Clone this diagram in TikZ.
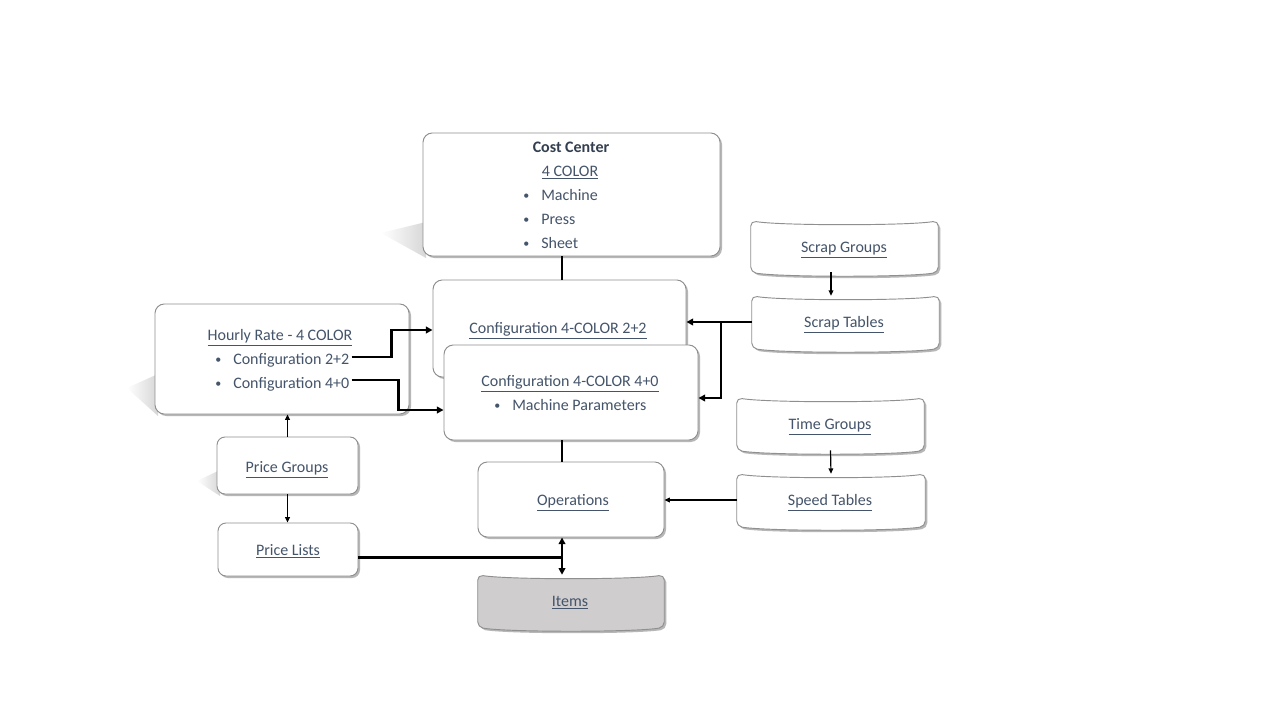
\documentclass[tikz,border=0pt]{standalone}
\usepackage{fontspec}
\setmainfont{Carlito}
\usetikzlibrary{shadows,calc,arrows.meta,fit}
\definecolor{txt}{HTML}{44546A}
\definecolor{txtdark}{HTML}{333F50}
\definecolor{bord}{HTML}{8F8F8F}
\definecolor{itemgray}{HTML}{CFCDCE}
\newcommand\myul[1]{\underline{#1}}
\newcommand\blt{\makebox[13.5pt][l]{\raisebox{0.6pt}{\scalebox{0.75}{\textbullet}}}}
\newcommand\wavebox[2]{%
  \path[draw=bord, fill=#2, line width=0.7pt, rounded corners=4pt,
        drop shadow={shadow xshift=1.5pt, shadow yshift=-1.5pt, opacity=0.4, fill=black!70}]
   (#1.north west) .. controls ($(#1.north west)+(30,5)$) and ($(#1.north east)+(-30,5)$) .. (#1.north east)
   -- (#1.south east) .. controls ($(#1.south east)+(-30,5)$) and ($(#1.south west)+(30,5)$) .. (#1.south west) -- cycle;}
\tikzset{
  boxstyle/.style={draw=bord, fill=white, rounded corners=7pt, line width=0.7pt, inner sep=0pt,
    drop shadow={shadow xshift=1.5pt, shadow yshift=-1.5pt, opacity=0.4, fill=black!70}},
  plainfit/.style={inner sep=0pt},
  lbl/.style={text=txt, font=\fontsize{12}{14}\selectfont, inner sep=0pt, anchor=base},
  lblw/.style={lbl, anchor=base west},
  conn/.style={line width=1.6pt},
  thinconn/.style={line width=0.9pt},
  arr/.style={-{Triangle[length=5pt,width=5pt]}},
  sarr/.style={-{Triangle[length=4pt,width=3.5pt]}},
  wedge/.style={left color=white, right color=black!16},
}
\begin{document}
\begin{tikzpicture}[x=0.75pt,y=-0.75pt]
\useasboundingbox[fill=white] (0,0) rectangle (1280,720);
% perspective shadows
\shade[wedge] (426,222) -- (381,233) -- (426,258) -- cycle;
\shade[wedge] (158,374) -- (127,388) -- (158,416) -- cycle;
\shade[wedge] (220,470) -- (197,481) -- (220,496) -- cycle;
% helper coordinates
\coordinate (vx) at (562,0);
\coordinate (sx) at (831,0);
% boxes
\node[boxstyle, fit={(423,133) (720,256)}] (cc) {};
\node[boxstyle, fit={(155,304) (409,414)}] (hr) {};
\node[boxstyle, fit={(433,280) (686,377)}] (c22) {};
\node[boxstyle, fit={(444,345) (698,440)}] (c40) {};
\node[boxstyle, rounded corners=6pt, fit={(217,437) (358,494)}] (pg) {};
\node[boxstyle, rounded corners=6pt, fit={(218,523) (358,576)}] (pl) {};
\node[boxstyle, fit={(478,462) (664,537)}] (ops) {};
\node[plainfit, fit={(751,221) (938,272)}] (sg) {};
\node[plainfit, fit={(752,296) (939,348)}] (st) {};
\node[plainfit, fit={(737,398) (924,450)}] (tg) {};
\node[plainfit, fit={(737,474) (925,526)}] (spt) {};
\node[plainfit, fit={(478,575) (664,627)}] (it) {};
\wavebox{sg}{white}
\wavebox{st}{white}
\wavebox{tg}{white}
\wavebox{spt}{white}
\wavebox{it}{itemgray}
% texts
\node[lbl, text=txtdark, font=\fontsize{12}{14}\selectfont\bfseries] (cct) at (571,152.5) {Cost Center};
\node[lbl] (cc0) at (570,176.5) {\myul{4 COLOR}};
\node[lblw] (cc1) at (523,200.5) {\blt Machine};
\node[lblw] (cc2) at (523,224.5) {\blt Press};
\node[lblw] (cc3) at (523,248.5) {\blt Sheet};
\node[lbl] (hrt) at (280,340.5) {\myul{Hourly Rate - 4 COLOR}};
\node[lblw] (hr1) at (215,364.5) {\blt Configuration 2+2};
\node[lblw] (hr2) at (215,388.5) {\blt Configuration 4+0};
\node[lbl] (c22t) at (558,333.5) {\myul{Configuration 4-COLOR 2+2}};
\node[lbl] (c40t) at (570,386.5) {\myul{Configuration 4-COLOR 4+0}};
\node[lblw] (c40b) at (494,410.5) {\blt Machine Parameters};
\node[lbl] (sgt) at (844,252.5) {\myul{Scrap Groups}};
\node[lbl] (stt) at (844,327.5) {\myul{Scrap Tables}};
\node[lbl] (tgt) at (830,429.5) {\myul{Time Groups}};
\node[lbl] (sptt) at (830,505.5) {\myul{Speed Tables}};
\node[lbl] (opst) at (573,505.5) {\myul{Operations}};
\node[lbl] (itt) at (570,606.5) {\myul{Items}};
\node[lbl] (pgt) at (287,472.5) {\myul{Price Groups}};
\node[lbl] (plt) at (288,555.5) {\myul{Price Lists}};
% connectors
\coordinate (ple) at ($(pl.east)+(0,8)$);
\draw[conn] (cc.south -| vx) -- (c22.north -| vx);
\draw[conn] (c40.south -| vx) -- (ops.north -| vx);
\draw[conn,{Triangle[length=5pt,width=5pt]}-{Triangle[length=5pt,width=5pt]}] (ops.south -| vx) -- (it.north -| vx);
\draw[conn] (ple) -- (ple -| vx);
\draw[conn,arr] ($(hr1.east)+(2,-3)$) -- ++(40,0) |- ($(c22.west)+(0,1.5)$);
\draw[conn,arr] ($(hr2.east)+(2,-4)$) -- ++(47,0) |- ($(c40.west)+(0,17.5)$);
\draw[conn,arr] (st.west) -- (st.west -| c22.east);
\draw[conn,arr] ($(st.west)+(-31,0)$) |- ($(c40.east)+(0,5.5)$);
\draw[thinconn,sarr] (sg.south -| sx) -- (st.north -| sx);
\draw[thinconn,sarr] (tg.south) -- (spt.north);
\draw[thinconn,sarr] (spt.west) -- (spt.west -| ops.east);
\draw[thinconn,sarr] (pg.north) -- (pg.north |- hr.south);
\draw[thinconn,sarr] (pg.south) -- (pg.south |- pl.north);
\end{tikzpicture}
\end{document}
